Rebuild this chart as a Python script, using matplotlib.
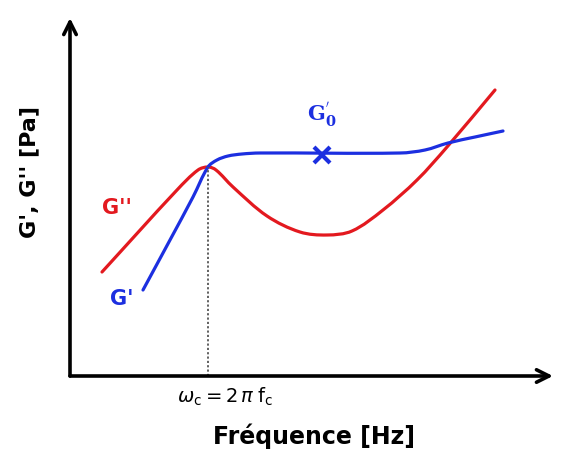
import math
import matplotlib.pyplot as plt
from matplotlib.path import Path
from matplotlib.patches import PathPatch

# schematic data (arbitrary units, origin at the axes corner)
red_x = [32, 107, 128, 138, 146, 163, 197, 230, 257, 282, 313, 347, 377, 425]
red_y = [104, 186, 206, 209, 206, 189, 160, 144, 141, 145, 166, 196, 229, 286]

blue_x = [73, 100, 123, 138, 147, 158, 172, 190, 330, 355, 378, 405, 433]
blue_y = [86, 136, 179, 209, 216, 220, 222, 223, 223, 226, 233, 239, 245]

cross_x, cross_y = 138, 209
g0_x, g0_y = 252, 221

x_max, y_max = 483, 358

RED = '#e3191f'
BLUE = '#1c2fe0'


def smooth_path(xs, ys):
    # bezier through the points, tangents from neighbours, handles = 1/3 of segment
    pts = list(zip(xs, ys))
    n = len(pts)
    tang = []
    for i in range(n):
        a = pts[max(i - 1, 0)]
        b = pts[min(i + 1, n - 1)]
        dx, dy = b[0] - a[0], b[1] - a[1]
        d = math.hypot(dx, dy) or 1.0
        tang.append((dx / d, dy / d))
    verts = [pts[0]]
    codes = [Path.MOVETO]
    for i in range(n - 1):
        p1, p2 = pts[i], pts[i + 1]
        h = math.hypot(p2[0] - p1[0], p2[1] - p1[1]) / 3
        c1 = (p1[0] + tang[i][0] * h, p1[1] + tang[i][1] * h)
        c2 = (p2[0] - tang[i + 1][0] * h, p2[1] - tang[i + 1][1] * h)
        verts += [c1, c2, p2]
        codes += [Path.CURVE4] * 3
    return Path(verts, codes)


fig = plt.figure(figsize=(5.73, 4.5), dpi=100)
ax = fig.add_axes([70 / 573, 74 / 450, 483 / 573, 358 / 450])
ax.set_xlim(0, x_max)
ax.set_ylim(0, y_max)
ax.axis('off')

# axes with open arrow heads
arrow = dict(arrowstyle='->,head_length=0.9,head_width=0.45', lw=2.6, color='black',
             shrinkA=0, shrinkB=0)
ax.annotate('', xy=(0, y_max), xytext=(0, 0), arrowprops=arrow, annotation_clip=False)
ax.annotate('', xy=(x_max, 0), xytext=(0, 0), arrowprops=arrow, annotation_clip=False)

# crossover marker line
ax.plot([cross_x, cross_x], [0, cross_y], color='#555555', lw=1.3, ls=(0, (1.2, 1.2)))

ax.add_patch(PathPatch(smooth_path(red_x, red_y), fill=False, edgecolor=RED, lw=2.3,
                       capstyle='round', joinstyle='round'))
ax.add_patch(PathPatch(smooth_path(blue_x, blue_y), fill=False, edgecolor=BLUE, lw=2.3,
                       capstyle='round', joinstyle='round'))
ax.plot([g0_x], [g0_y], marker='x', ms=11, mew=3, color=BLUE)

ax.text(47, 168, "G''", color=RED, fontsize=15, fontweight='bold', ha='center', va='center')
ax.text(52, 77, "G'", color=BLUE, fontsize=15, fontweight='bold', ha='center', va='center')
ax.text(g0_x, g0_y + 26, r"$\mathbf{G_0^{'}}$", color=BLUE, fontsize=15, ha='center', va='bottom',
        math_fontfamily='dejavuserif')

ax.text(cross_x + 17, -21, r"$\omega_{\mathrm{c}} = 2\,\pi\;\mathrm{f}_{\mathrm{c}}$", fontsize=14,
        ha='center', va='center', math_fontfamily='dejavusans', clip_on=False)

fig.text(314 / 573, 1 - 436 / 450, "Fréquence [Hz]", fontsize=17, fontweight='bold',
         ha='center', va='center')
fig.text(29 / 573, 1 - 172 / 450, "G', G'' [Pa]", fontsize=16, fontweight='bold',
         ha='center', va='center', rotation=90)

fig.savefig('out.png', dpi=100)
